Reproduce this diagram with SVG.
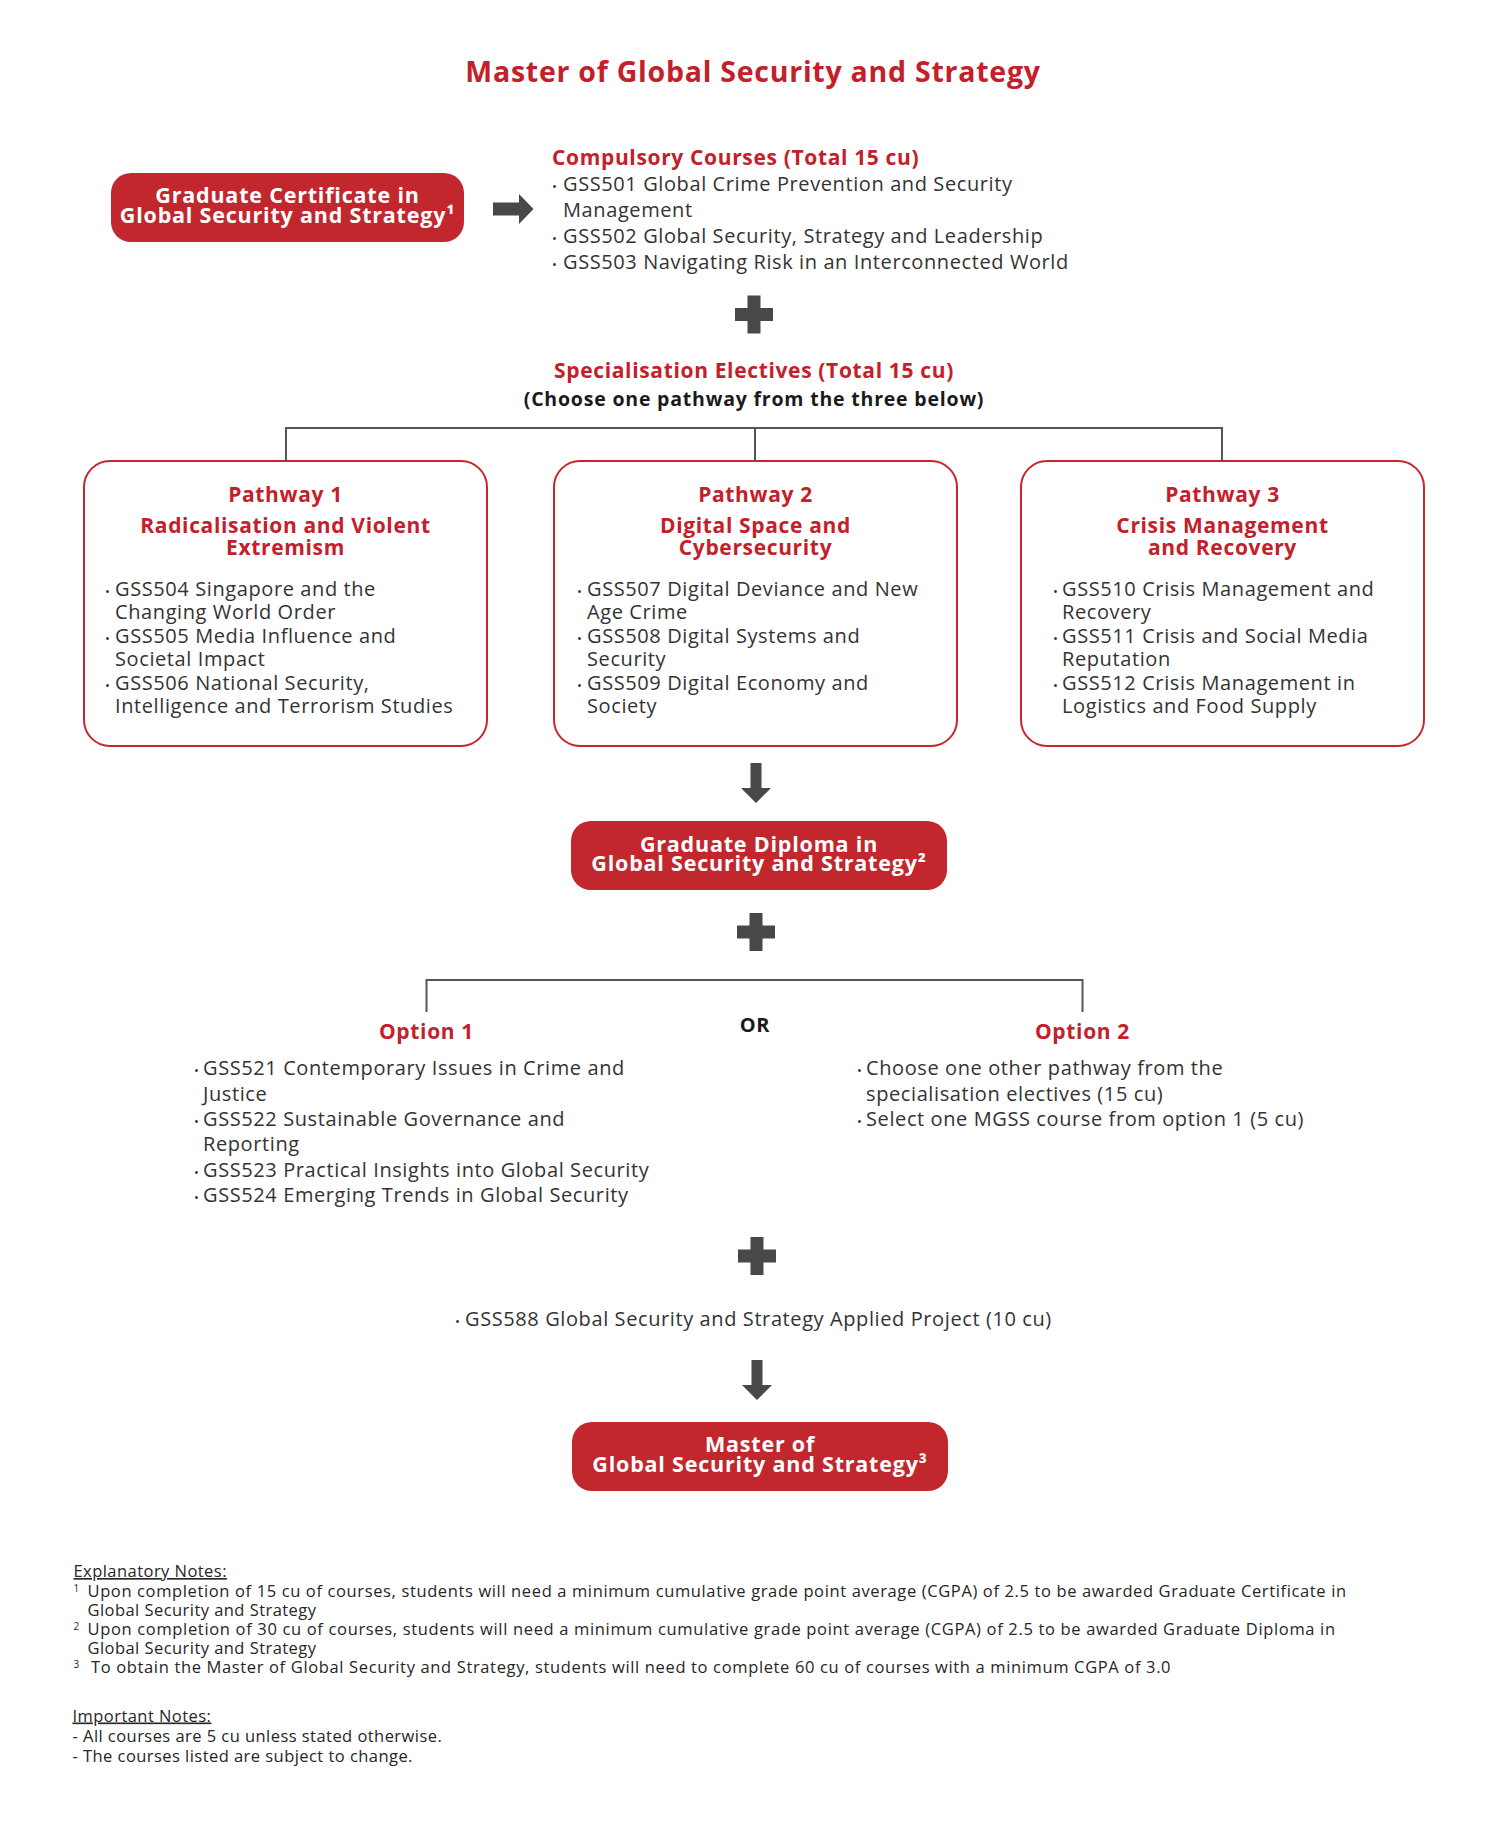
<svg xmlns="http://www.w3.org/2000/svg" width="1510" height="1829" viewBox="0 0 1510 1829">
<style>
text{font-family:"Open Sans","Liberation Sans",sans-serif}
.title{font-size:28.5px;font-weight:700;fill:#c3202a;letter-spacing:0.75px}
.hd{font-size:21px;font-weight:700;fill:#c3202a;letter-spacing:0.65px}
.blk{font-size:19.5px;font-weight:700;fill:#1a1a1a;letter-spacing:0.8px}
.body{font-size:20px;fill:#333;letter-spacing:0.6px}
.wt{font-size:21.5px;font-weight:700;fill:#fff;letter-spacing:0.8px}
.note{font-size:16.5px;font-weight:500;fill:#262626;letter-spacing:0.45px}
.dot{font-size:13px}
.award{fill:#c1272d}
.path{fill:#fff;stroke:#c8262c;stroke-width:2}
.sym{fill:#484848}
.conn{fill:none;stroke:#555;stroke-width:2}
</style>
<defs>
<path id="plus" d="M-19,-6.5 H-6.5 V-19 H6.5 V-6.5 H19 V6.5 H6.5 V19 H-6.5 V6.5 H-19 Z"/>
<path id="down" d="M-5.5,0 H5.5 V25 H15 L0,40 L-15,25 H-5.5 Z"/>
</defs>

<text class="title" x="753" y="82" text-anchor="middle">Master of Global Security and Strategy</text>

<g id="grad-cert">
<rect class="award" x="111" y="173" width="353" height="69" rx="20"/>
<text class="wt" x="287.5" y="203" text-anchor="middle">Graduate Certificate in</text>
<text class="wt" x="287.5" y="223" text-anchor="middle">Global Security and Strategy¹</text>
</g>

<g id="compulsory">
<text class="hd" x="552" y="165">Compulsory Courses (Total 15 cu)</text>
<text class="body" x="552" y="191"><tspan class="dot">•</tspan><tspan x="563">GSS501 Global Crime Prevention and Security</tspan></text>
<text class="body" x="563" y="217">Management</text>
<text class="body" x="552" y="243"><tspan class="dot">•</tspan><tspan x="563">GSS502 Global Security, Strategy and Leadership</tspan></text>
<text class="body" x="552" y="269"><tspan class="dot">•</tspan><tspan x="563">GSS503 Navigating Risk in an Interconnected World</tspan></text>
</g>

<g id="spec-heading">
<text class="hd" x="754" y="378" text-anchor="middle">Specialisation Electives (Total 15 cu)</text>
<text class="blk" x="754" y="406" text-anchor="middle">(Choose one pathway from the three below)</text>
</g>

<g id="pathway1">
<rect class="path" x="84" y="461" width="403" height="285" rx="26"/>
<text class="hd" x="285.5" y="502" text-anchor="middle">Pathway 1</text>
<text class="hd" x="285.5" y="533" text-anchor="middle">Radicalisation and Violent</text>
<text class="hd" x="285.5" y="555" text-anchor="middle">Extremism</text>
<text class="body" x="105" y="595.5"><tspan class="dot">•</tspan><tspan x="115">GSS504 Singapore and the</tspan></text>
<text class="body" x="115" y="619">Changing World Order</text>
<text class="body" x="105" y="642.5"><tspan class="dot">•</tspan><tspan x="115">GSS505 Media Influence and</tspan></text>
<text class="body" x="115" y="666">Societal Impact</text>
<text class="body" x="105" y="689.5"><tspan class="dot">•</tspan><tspan x="115">GSS506 National Security,</tspan></text>
<text class="body" x="115" y="713">Intelligence and Terrorism Studies</text>
</g>

<g id="pathway2">
<rect class="path" x="554" y="461" width="403" height="285" rx="26"/>
<text class="hd" x="755.5" y="502" text-anchor="middle">Pathway 2</text>
<text class="hd" x="755.5" y="533" text-anchor="middle">Digital Space and</text>
<text class="hd" x="755.5" y="555" text-anchor="middle">Cybersecurity</text>
<text class="body" x="577" y="595.5"><tspan class="dot">•</tspan><tspan x="587">GSS507 Digital Deviance and New</tspan></text>
<text class="body" x="587" y="619">Age Crime</text>
<text class="body" x="577" y="642.5"><tspan class="dot">•</tspan><tspan x="587">GSS508 Digital Systems and</tspan></text>
<text class="body" x="587" y="666">Security</text>
<text class="body" x="577" y="689.5"><tspan class="dot">•</tspan><tspan x="587">GSS509 Digital Economy and</tspan></text>
<text class="body" x="587" y="713">Society</text>
</g>

<g id="pathway3">
<rect class="path" x="1021" y="461" width="403" height="285" rx="26"/>
<text class="hd" x="1222.5" y="502" text-anchor="middle">Pathway 3</text>
<text class="hd" x="1222.5" y="533" text-anchor="middle">Crisis Management</text>
<text class="hd" x="1222.5" y="555" text-anchor="middle">and Recovery</text>
<text class="body" x="1053" y="595.5"><tspan class="dot">•</tspan><tspan x="1062">GSS510 Crisis Management and</tspan></text>
<text class="body" x="1062" y="619">Recovery</text>
<text class="body" x="1053" y="642.5"><tspan class="dot">•</tspan><tspan x="1062">GSS511 Crisis and Social Media</tspan></text>
<text class="body" x="1062" y="666">Reputation</text>
<text class="body" x="1053" y="689.5"><tspan class="dot">•</tspan><tspan x="1062">GSS512 Crisis Management in</tspan></text>
<text class="body" x="1062" y="713">Logistics and Food Supply</text>
</g>

<g id="grad-diploma">
<rect class="award" x="571" y="821" width="376" height="69" rx="20"/>
<text class="wt" x="759" y="852" text-anchor="middle">Graduate Diploma in</text>
<text class="wt" x="759" y="871" text-anchor="middle">Global Security and Strategy²</text>
</g>

<g id="or-label">
<text class="blk" x="755" y="1032" text-anchor="middle" style="font-size:20px">OR</text>
</g>

<g id="option1">
<text class="hd" x="426.5" y="1039" text-anchor="middle">Option 1</text>
<text class="body" x="194" y="1075"><tspan class="dot">•</tspan><tspan x="203">GSS521 Contemporary Issues in Crime and</tspan></text>
<text class="body" x="203" y="1100.5">Justice</text>
<text class="body" x="194" y="1126"><tspan class="dot">•</tspan><tspan x="203">GSS522 Sustainable Governance and</tspan></text>
<text class="body" x="203" y="1151">Reporting</text>
<text class="body" x="194" y="1176.5"><tspan class="dot">•</tspan><tspan x="203">GSS523 Practical Insights into Global Security</tspan></text>
<text class="body" x="194" y="1202"><tspan class="dot">•</tspan><tspan x="203">GSS524 Emerging Trends in Global Security</tspan></text>
</g>

<g id="option2">
<text class="hd" x="1082.5" y="1039" text-anchor="middle">Option 2</text>
<text class="body" x="857" y="1075"><tspan class="dot">•</tspan><tspan x="866">Choose one other pathway from the</tspan></text>
<text class="body" x="866" y="1100.5">specialisation electives (15 cu)</text>
<text class="body" x="857" y="1126"><tspan class="dot">•</tspan><tspan x="866">Select one MGSS course from option 1 (5 cu)</tspan></text>
</g>

<g id="project">
<text class="body" x="455" y="1326"><tspan class="dot">•</tspan><tspan x="465">GSS588 Global Security and Strategy Applied Project (10 cu)</tspan></text>
</g>

<g id="master">
<rect class="award" x="572" y="1422" width="376" height="69" rx="20"/>
<text class="wt" x="760" y="1452" text-anchor="middle">Master of</text>
<text class="wt" x="760" y="1472" text-anchor="middle">Global Security and Strategy³</text>
</g>

<g id="connectors">
<path class="sym" d="M493,202.5 H519 V194 L533.5,209 L519,224 V215.5 H493 Z"/>
<use href="#plus" class="sym" x="754" y="314.5"/>
<path class="conn" d="M286,461 V428 H1222 V461 M755,428 V461"/>
<use href="#down" class="sym" x="756" y="763"/>
<use href="#plus" class="sym" x="756" y="932"/>
<path class="conn" d="M426.5,1012 V980 H1082.5 V1012"/>
<use href="#plus" class="sym" x="757" y="1256"/>
<use href="#down" class="sym" x="757" y="1360"/>
</g>

<g id="notes">
<text class="note" x="73.5" y="1577" text-decoration="underline">Explanatory Notes:</text>
<text class="note" x="73.5" y="1596.5"><tspan font-size="10" dy="-5">1</tspan><tspan x="87.5" dy="5" textLength="1259">Upon completion of 15 cu of courses, students will need a minimum cumulative grade point average (CGPA) of 2.5 to be awarded Graduate Certificate in</tspan></text>
<text class="note" x="87.5" y="1616">Global Security and Strategy</text>
<text class="note" x="73.5" y="1635"><tspan font-size="10" dy="-5">2</tspan><tspan x="87.5" dy="5" textLength="1248">Upon completion of 30 cu of courses, students will need a minimum cumulative grade point average (CGPA) of 2.5 to be awarded Graduate Diploma in</tspan></text>
<text class="note" x="87.5" y="1654">Global Security and Strategy</text>
<text class="note" x="73.5" y="1673"><tspan font-size="10" dy="-5">3</tspan><tspan x="91" dy="5" textLength="1080">To obtain the Master of Global Security and Strategy, students will need to complete 60 cu of courses with a minimum CGPA of 3.0</tspan></text>
<text class="note" x="72.5" y="1721.5" text-decoration="underline">Important Notes:</text>
<text class="note" x="72.5" y="1741.5">- All courses are 5 cu unless stated otherwise.</text>
<text class="note" x="72.5" y="1761.5">- The courses listed are subject to change.</text>
</g>
</svg>
